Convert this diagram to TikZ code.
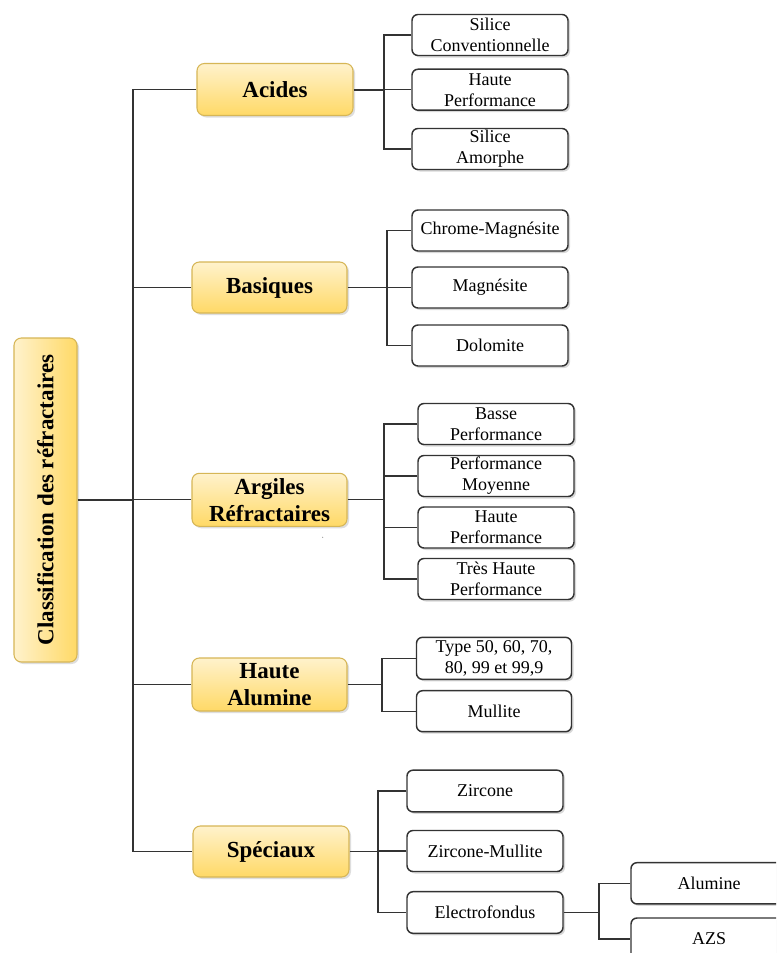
\documentclass[tikz,border=0pt]{standalone}
\usepackage{fontspec}
\setmainfont{Liberation Serif}
\usetikzlibrary{shadows,calc}
\definecolor{hlight}{HTML}{FFF2CC}
\definecolor{hdark}{HTML}{FFD966}
\definecolor{hborder}{HTML}{D6B656}
\definecolor{linec}{HTML}{333333}
\begin{document}
\begin{tikzpicture}[x=0.75pt,y=-0.75pt,
  conn/.style={draw=linec,line width=1pt},
  childbox/.style={draw=linec,line width=1.1pt,fill=white,rounded corners=4.5pt,
    align=center,inner sep=0pt,minimum width=156*0.75pt,minimum height=41*0.75pt,
    font=\fontsize{13.5pt}{15.75pt}\selectfont,
    drop shadow={shadow xshift=1.5pt,shadow yshift=-1.5pt,fill=black!30}},
  headbox/.style={draw=hborder,line width=0.8pt,top color=hlight,bottom color=hdark,
    rounded corners=5.5pt,align=center,inner sep=0pt,
    minimum width=155*0.75pt,minimum height=52*0.75pt,
    font=\bfseries\fontsize{17.25pt}{20.25pt}\selectfont,
    drop shadow={shadow xshift=1.5pt,shadow yshift=-1.5pt,fill=black!25}},
]
\clip (0,0) rectangle (776,953);
\fill[white] (0,0) rectangle (776,953);

% root
\node[draw=hborder,line width=0.8pt,left color=hlight,right color=hdark,
  rounded corners=5.5pt,inner sep=0pt,minimum width=63*0.75pt,minimum height=324*0.75pt,
  drop shadow={shadow xshift=1.5pt,shadow yshift=-1.5pt,fill=black!25}]
  (root) at (45.5,500) {};
\node[rotate=90,font=\bfseries\fontsize{17.25pt}{20.25pt}\selectfont,inner sep=0pt]
  (roottext) at (root.center) {Classification des réfractaires};

% headers
\node[headbox,minimum width=156*0.75pt] (hA) at (275,89.5) {Acides};
\node[headbox,minimum height=51*0.75pt] (hB) at (269.5,287.5) {Basiques};
\node[headbox,minimum height=53*0.75pt] (hC) at (269.5,499.8) {Argiles\\Réfractaires};
\node[headbox,minimum height=53*0.75pt] (hD) at (269.5,684.5) {Haute\\Alumine};
\node[headbox,minimum width=156*0.75pt,minimum height=51*0.75pt] (hE) at (271,851.5) {Spéciaux};

% trunk
\coordinate (tr) at (133,0);
\draw[conn] (root.east) -- (root.east -| tr);
\draw[conn] (hA.west) -- (hA.west -| tr) -- (hE.west -| tr) -- (hE.west);
\draw[conn] (hB.west) -- (hB.west -| tr);
\draw[conn] (hC.west) -- (hC.west -| tr);
\draw[conn] (hD.west) -- (hD.west -| tr);

% Acides children
\node[childbox] (a1) at (490,35) {Silice\\Conventionnelle};
\node[childbox] (a2) at (490,89.7) {Haute\\Performance};
\node[childbox] (a3) at (490,149) {Silice\\Amorphe};
\coordinate (bA) at (384,0);
\draw[conn,line width=1.5pt] (hA.east) -- (hA.east -| bA);
\draw[conn] (a1.west) -- (a1.west -| bA) -- (a3.west -| bA) -- (a3.west);
\draw[conn] (a2.west) -- (a2.west -| bA);

% Basiques children
\node[childbox] (b1) at (490,230.5) {Chrome-Magnésite};
\node[childbox] (b2) at (490,287.5) {Magnésite};
\node[childbox] (b3) at (490,345.5) {Dolomite};
\coordinate (bB) at (387,0);
\draw[conn] (hB.east) -- (hB.east -| bB);
\draw[conn] (b1.west) -- (b1.west -| bB) -- (b3.west -| bB) -- (b3.west);
\draw[conn] (b2.west) -- (b2.west -| bB);

% Argiles children
\node[childbox] (c1) at (496,424) {Basse\\Performance};
\node[childbox] (c2) at (496,476) {Performance\\Moyenne};
\node[childbox] (c3) at (496,527.5) {Haute\\Performance};
\node[childbox] (c4) at (496,579) {Très Haute\\Performance};
\coordinate (bC) at (384,0);
\draw[conn] (hC.east) -- (hC.east -| bC);
\draw[conn] (c1.west) -- (c1.west -| bC) -- (c4.west -| bC) -- (c4.west);
\draw[conn] (c2.west) -- (c2.west -| bC);
\draw[conn] (c3.west) -- (c3.west -| bC);

% Haute Alumine children
\node[childbox,minimum width=155*0.75pt,minimum height=42*0.75pt] (d1) at (494,658.3) {Type 50, 60, 70,\\80, 99 et 99,9};
\node[childbox,minimum width=155*0.75pt] (d2) at (494,711.2) {Mullite};
\coordinate (bD) at (382,0);
\draw[conn] (hD.east) -- (hD.east -| bD);
\draw[conn] (d1.west) -- (d1.west -| bD) -- (d2.west -| bD) -- (d2.west);

% Speciaux children
\node[childbox,minimum height=41.7*0.75pt] (e1) at (485,791) {Zircone};
\node[childbox] (e2) at (485,851) {Zircone-Mullite};
\node[childbox,minimum height=41.6*0.75pt] (e3) at (485,912.5) {Electrofondus};
\coordinate (bE) at (378,0);
\draw[conn] (hE.east) -- (hE.east -| bE);
\draw[conn] (e1.west) -- (e1.west -| bE) -- (e3.west -| bE) -- (e3.west);
\draw[conn] (e2.west) -- (e2.west -| bE);

% Electrofondus children
\node[childbox,minimum height=41.3*0.75pt] (f1) at (709,883.3) {Alumine};
\node[childbox,minimum height=42*0.75pt] (f2) at (709,939) {AZS};
\coordinate (bF) at (599,0);
\draw[conn] (e3.east) -- (e3.east -| bF);
\draw[conn] (f1.west) -- (f1.west -| bF) -- (f2.west -| bF) -- (f2.west);

% small speck
\fill[black!45] (322.7,537.3) circle (0.6);
\end{tikzpicture}
\end{document}
